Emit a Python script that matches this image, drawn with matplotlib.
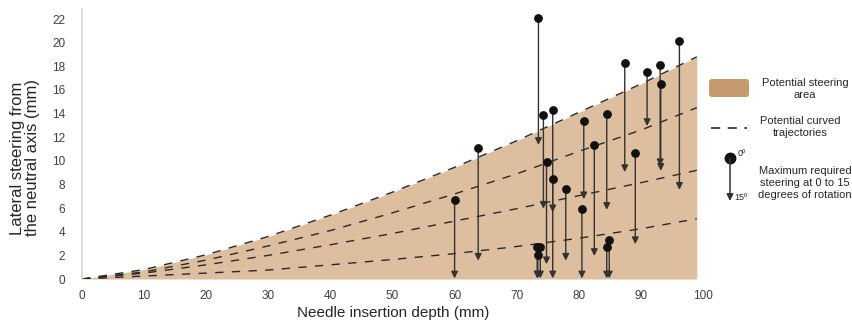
import matplotlib
matplotlib.use("Agg")
import matplotlib.pyplot as plt
from matplotlib.patches import FancyBboxPatch

plt.rcParams['font.family'] = ['Liberation Sans', 'DejaVu Sans']

# potential curved trajectories (mm)
curve_x = [0, 10, 20, 30, 40, 50, 60, 70, 80, 90, 99]
edge_top = [0, 0.8, 2.05, 3.6, 5.4, 7.35, 9.45, 11.7, 14.1, 16.5, 18.8]
curve_2 = [0, 0.6, 1.6, 2.8, 4.1, 5.6, 7.2, 8.9, 10.8, 12.6, 14.5]
curve_3 = [0, 0.5, 1.2, 2.0, 2.9, 3.85, 4.9, 5.95, 7.05, 8.15, 9.2]
curve_4 = [0, 0.25, 0.5, 0.76, 1.2, 1.65, 2.15, 2.75, 3.45, 4.25, 5.1]

# required steering: depth, steering at 0 deg, steering at 15 deg
depth = [60, 63.8, 73.5, 73.3, 73.8, 73.4, 74.3, 74.8, 75.8, 75.8, 77.9,
         80.5, 80.8, 82.5, 84.5, 84.5, 84.9, 87.4, 89.1, 91.0, 93.1, 93.2, 96.2]
steer_0 = [6.7, 11.1, 22.1, 2.7, 2.7, 2.0, 13.9, 9.9, 14.3, 8.5, 7.6,
           5.9, 13.4, 11.3, 2.7, 14.0, 3.3, 18.3, 10.7, 17.5, 18.1, 16.5, 20.1]
steer_15 = [0, 1.5, 11.3, 0, 0, 0, 5.9, 1.2, 5.6, 0, 1.5,
            0, 6.7, 1.9, 0, 5.8, 0, 9.0, 2.9, 12.9, 9.5, 9.1, 7.5]

W, H = 853, 324
fig = plt.figure(figsize=(W / 100, H / 100), dpi=100)
ax = fig.add_axes([82 / W, 1 - 279 / H, (703 - 82) / W, (279 - 9) / H])

fill_col = '#ddbfa0'
line_col = '#2a2a2a'
arrow_col = '#333333'
head = '-|>,head_length=0.4,head_width=0.2'

ax.fill_between(curve_x, 0, edge_top, color=fill_col, lw=0, zorder=1)
for cy in [edge_top, curve_2, curve_3, curve_4]:
    ln, = ax.plot(curve_x, cy, color=line_col, lw=1.0, zorder=2)
    ln.set_dashes((6, 6))

for x, y0, y1 in zip(depth, steer_0, steer_15):
    ax.annotate('', xy=(x, y1 + 0.05), xytext=(x, y0),
                arrowprops=dict(arrowstyle=head, color=arrow_col, lw=1.0,
                                shrinkA=0, shrinkB=0),
                zorder=3)
ax.plot(depth, steer_0, 'o', color='#111111', ms=5.3, zorder=4)

ax.set_xlim(0, 100)
ax.set_ylim(0, 22.85)
ax.set_xticks(range(0, 101, 10))
ax.set_yticks(range(0, 23, 2))
ax.tick_params(length=0, labelsize=8.5, labelcolor='#404040')
ax.tick_params(axis='y', pad=12)
ax.tick_params(axis='x', pad=8)
for s in ['top', 'right', 'bottom']:
    ax.spines[s].set_visible(False)
ax.spines['left'].set_color('#d9d9d9')
ax.spines['left'].set_linewidth(1.3)

# overlay in pixel coordinates for axis titles and legend
ov = fig.add_axes([0, 0, 1, 1], zorder=5)
ov.set_xlim(0, W)
ov.set_ylim(H, 0)
ov.axis('off')

ov.text(393, 313, 'Needle insertion depth (mm)', ha='center', va='center',
        fontsize=11, color='#262626')
ov.text(25, 158, 'Lateral steering from\nthe neutral axis (mm)', rotation=90,
        ha='center', va='center', fontsize=12, color='#262626', linespacing=1.05)

ov.add_patch(FancyBboxPatch((709, 79), 40, 18,
                            boxstyle='round,pad=0,rounding_size=3',
                            fc='#c4996e', ec='none'))
ov.text(805, 89, 'Potential steering\narea', ha='center', va='center',
        fontsize=8, color='#262626', linespacing=1.25)

ln, = ov.plot([711, 747], [128, 128], color=line_col, lw=1.2)
ln.set_dashes((5.5, 4.5))
ov.text(800, 127, 'Potential curved\ntrajectories', ha='center', va='center',
        fontsize=8, color='#262626', linespacing=1.25)

ov.annotate('', xy=(730, 201), xytext=(730, 158),
            arrowprops=dict(arrowstyle=head, color=arrow_col, lw=1.1,
                            shrinkA=0, shrinkB=0))
ov.plot([730], [158], 'o', color='#111111', ms=7.5)
ov.text(738, 154, '0º', fontsize=6.5, color='#262626', va='center', ha='left')
ov.text(734, 198, '15º', fontsize=6.5, color='#262626', va='center', ha='left')
ov.text(805, 183, 'Maximum required\nsteering at 0 to 15\ndegrees of rotation',
        ha='center', va='center', fontsize=8, color='#262626', linespacing=1.25)

fig.savefig('out.png', dpi=100)
